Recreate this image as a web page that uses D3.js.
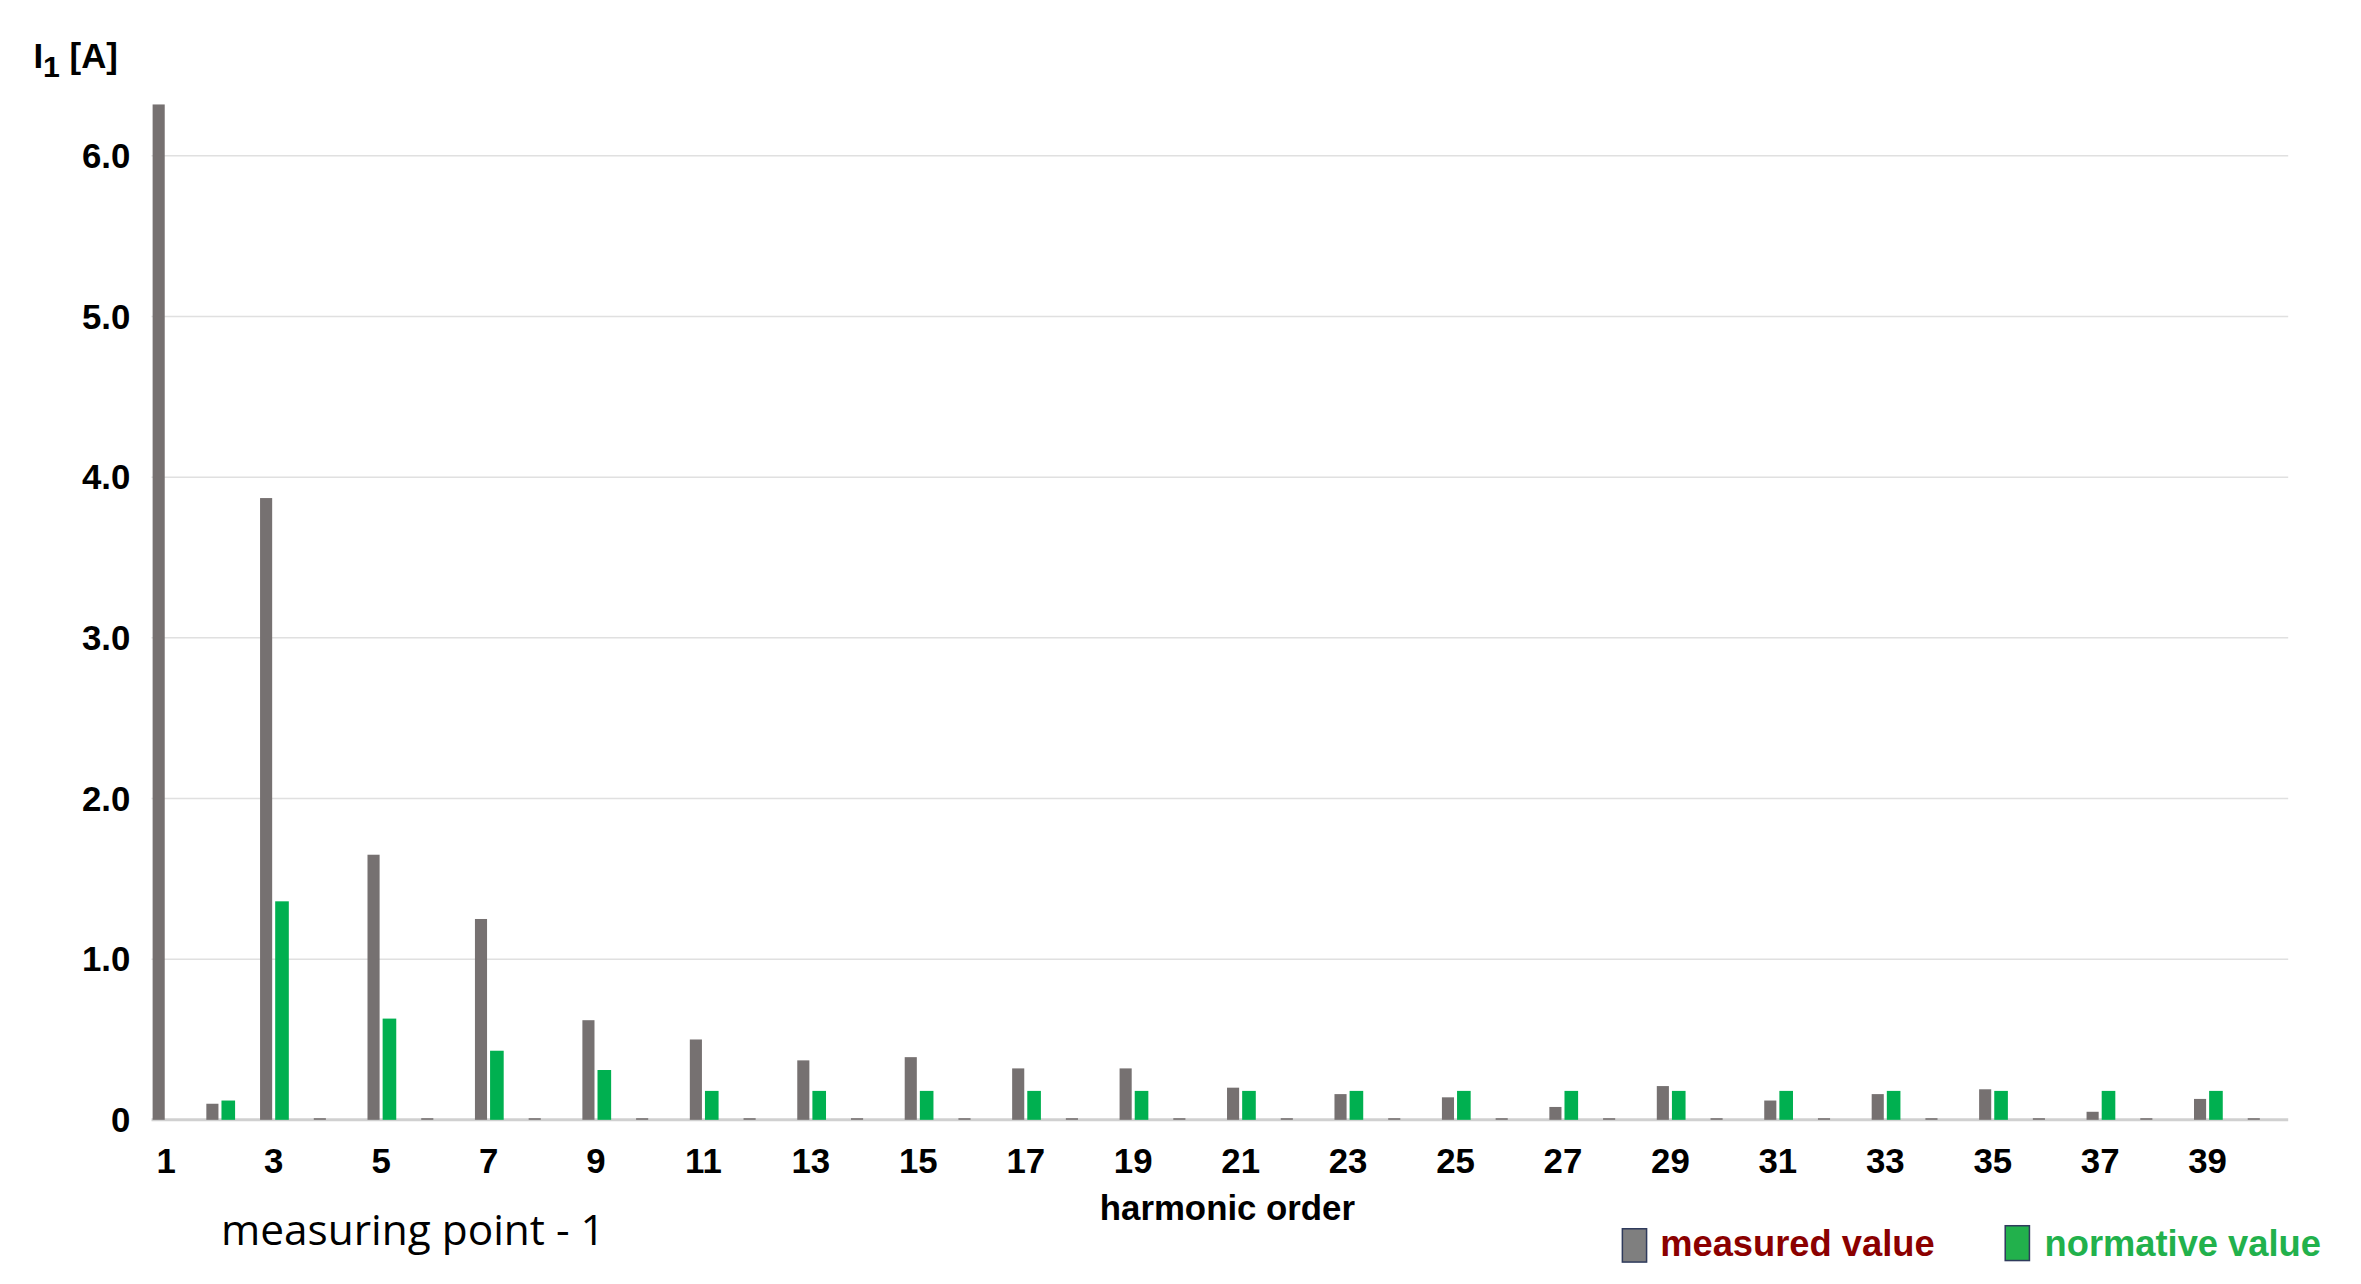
<!DOCTYPE html>
<html><head><meta charset="utf-8">
<script src="https://cdn.jsdelivr.net/npm/d3@7"></script>
<style>body{margin:0;background:#fff}</style></head>
<body><svg id="c" width="2361" height="1284" viewBox="0 0 1560 848.5"></svg>
<script>
const harmonics = d3.range(1, 41);
const measured = [6.32,0.10,3.87,0.01,1.65,0.01,1.25,0.01,0.62,0.01,0.50,0.01,0.37,0.01,0.39,0.01,0.32,0.01,0.32,0.01,
                  0.20,0.01,0.16,0.01,0.14,0.01,0.08,0.01,0.21,0.01,0.12,0.01,0.16,0.01,0.19,0.01,0.05,0.01,0.13,0.01];
const normative = [0,0.12,1.36,0,0.63,0,0.43,0,0.31,0,0.18,0,0.18,0,0.18,0,0.18,0,0.18,0,
                   0.18,0,0.18,0,0.18,0,0.18,0,0.18,0,0.18,0,0.18,0,0.18,0,0.18,0,0.18,0];
const tickLabels = harmonics.filter(h => h % 2 === 1);
const yTicks = [0,1,2,3,4,5,6];

const svg = d3.select("#c");
const x = d3.scaleBand().domain(harmonics).range([92,1512]);
const y = d3.scaleLinear().domain([0,6]).range([740,103]);

// grid
svg.append("g").selectAll("line").data(yTicks).join("line")
  .attr("x1",100).attr("x2",1512).attr("y1",d=>y(d)).attr("y2",d=>y(d))
  .attr("stroke",d=>d===0?"#d0d0d0":"#e0e0e0").attr("stroke-width",d=>d===0?2:1);

// y labels
svg.append("g").selectAll("text").data(yTicks).join("text")
  .attr("x",86).attr("y",d=>y(d)+8).attr("text-anchor","end")
  .attr("font-family","Liberation Sans, Arial").attr("font-weight","bold").attr("font-size",23)
  .text(d=>d===0?"0":d.toFixed(1));

// bars
const bw = 8;
svg.append("g").selectAll("rect").data(harmonics).join("rect")
  .attr("x",(d)=>x(d)+x.bandwidth()/2-bw-1).attr("width",bw)
  .attr("y",(d,i)=>y(measured[i])).attr("height",(d,i)=>y(0)-y(measured[i]))
  .attr("fill","#767171");
svg.append("g").selectAll("rect").data(harmonics).join("rect")
  .attr("x",(d)=>x(d)+x.bandwidth()/2+1).attr("width",bw+1)
  .attr("y",(d,i)=>y(normative[i])).attr("height",(d,i)=>y(0)-y(normative[i]))
  .attr("fill","#00b050");

// x labels
svg.append("g").selectAll("text").data(tickLabels).join("text")
  .attr("x",d=>x(d)+x.bandwidth()/2).attr("y",775).attr("text-anchor","middle")
  .attr("font-family","Liberation Sans, Arial").attr("font-weight","bold").attr("font-size",23)
  .text(d=>d);

// titles
const t = svg.append("text").attr("x",22).attr("y",45)
  .attr("font-family","Liberation Sans, Arial").attr("font-weight","bold").attr("font-size",23);
t.append("tspan").text("I");
t.append("tspan").attr("dy",6).attr("font-size",20).text("1");
t.append("tspan").attr("dy",-6).text(" [A]");

svg.append("text").attr("x",811).attr("y",806).attr("text-anchor","middle")
  .attr("font-family","Liberation Sans, Arial").attr("font-weight","bold").attr("font-size",23)
  .text("harmonic order");
svg.append("text").attr("x",146).attr("y",823)
  .attr("font-family","Open Sans, Liberation Sans").attr("font-size",28)
  .text("measuring point - 1");

// legend
svg.append("rect").attr("x",1072).attr("y",812).attr("width",16).attr("height",22)
  .attr("fill","#7f7f7f").attr("stroke","#2f3b5c").attr("stroke-width",1);
svg.append("text").attr("x",1097).attr("y",830).attr("fill","#8b0000")
  .attr("font-family","Liberation Sans, Arial").attr("font-weight","bold").attr("font-size",24)
  .text("measured value");
svg.append("rect").attr("x",1325).attr("y",810).attr("width",16).attr("height",23)
  .attr("fill","#22b14c").attr("stroke","#2f3b5c").attr("stroke-width",1);
svg.append("text").attr("x",1351).attr("y",830).attr("fill","#22b14c")
  .attr("font-family","Liberation Sans, Arial").attr("font-weight","bold").attr("font-size",24)
  .text("normative value");
</script></body></html>
